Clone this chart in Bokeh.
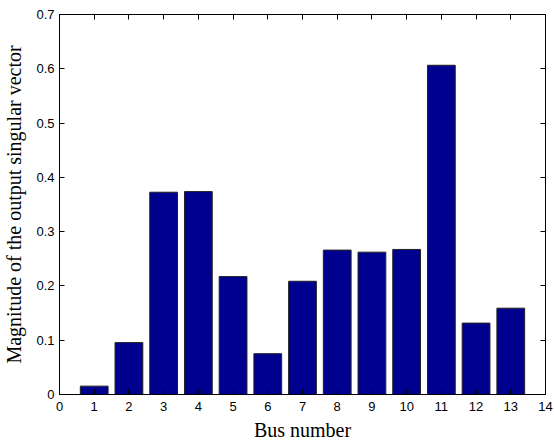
from bokeh.plotting import figure
from bokeh.models import Range1d, LinearAxis, FixedTicker
from bokeh.embed import file_html
from bokeh.resources import INLINE

bus = [1, 2, 3, 4, 5, 6, 7, 8, 9, 10, 11, 12, 13]
magnitude = [0.0154, 0.0956, 0.3726, 0.3738, 0.2172, 0.0752, 0.2086,
             0.2660, 0.2622, 0.2672, 0.6065, 0.1315, 0.1590]
x_ticks = list(range(0, 15))
y_ticks = [0.0, 0.1, 0.2, 0.3, 0.4, 0.5, 0.6, 0.7]

p = figure(width=538, height=426, output_backend="svg", toolbar_location=None,
           x_range=Range1d(0, 14), y_range=Range1d(0, 0.7),
           min_border_left=54, min_border_right=8, min_border_top=14, min_border_bottom=40)
p.frame_width = 486
p.frame_height = 380
p.xgrid.visible = False
p.ygrid.visible = False
p.background_fill_color = "white"
p.border_fill_color = "white"
p.outline_line_color = "black"

p.vbar(x=bus, top=magnitude, width=0.8, fill_color="#00008F",
       line_color="#222222", line_width=1)

tick_font = "Liberation Sans"
label_font = "Liberation Serif"

for ax in (p.xaxis[0], p.yaxis[0]):
    ax.major_tick_in = 5
    ax.major_tick_out = 0
    ax.minor_tick_line_color = None
    ax.axis_line_color = "black"
    ax.major_tick_line_color = "black"
    ax.major_label_text_font = tick_font
    ax.major_label_text_font_size = "13px"
    ax.major_label_text_color = "black"
    ax.axis_label_text_font = label_font
    ax.axis_label_text_font_style = "normal"
    ax.axis_label_text_font_size = "20px"
    ax.axis_label_text_color = "black"

p.xaxis[0].ticker = FixedTicker(ticks=x_ticks)
p.yaxis[0].ticker = FixedTicker(ticks=y_ticks)
p.yaxis[0].major_label_overrides = {0: "0"}
p.xaxis[0].axis_label = "Bus number"
p.yaxis[0].axis_label = "Magnitude of the output singular vector"
p.xaxis[0].major_label_standoff = 7
p.xaxis[0].axis_label_standoff = 5
p.yaxis[0].major_label_standoff = 5
p.yaxis[0].axis_label_standoff = 8
p.xaxis[0].major_label_text_line_height = 1.0
p.xaxis[0].axis_label_text_line_height = 1.0

top_ax = LinearAxis(ticker=FixedTicker(ticks=x_ticks), major_label_text_font_size="1px",
                    major_label_text_color=None,
                    major_tick_in=5, major_tick_out=0, minor_tick_line_color=None,
                    major_label_standoff=0, axis_line_color="black")
right_ax = LinearAxis(ticker=FixedTicker(ticks=y_ticks), major_label_text_font_size="1px",
                      major_label_text_color=None,
                      major_tick_in=5, major_tick_out=0, minor_tick_line_color=None,
                      major_label_standoff=0, axis_line_color="black")
p.add_layout(top_ax, "above")
p.add_layout(right_ax, "right")

open("out.html", "w").write(file_html(p, INLINE))
